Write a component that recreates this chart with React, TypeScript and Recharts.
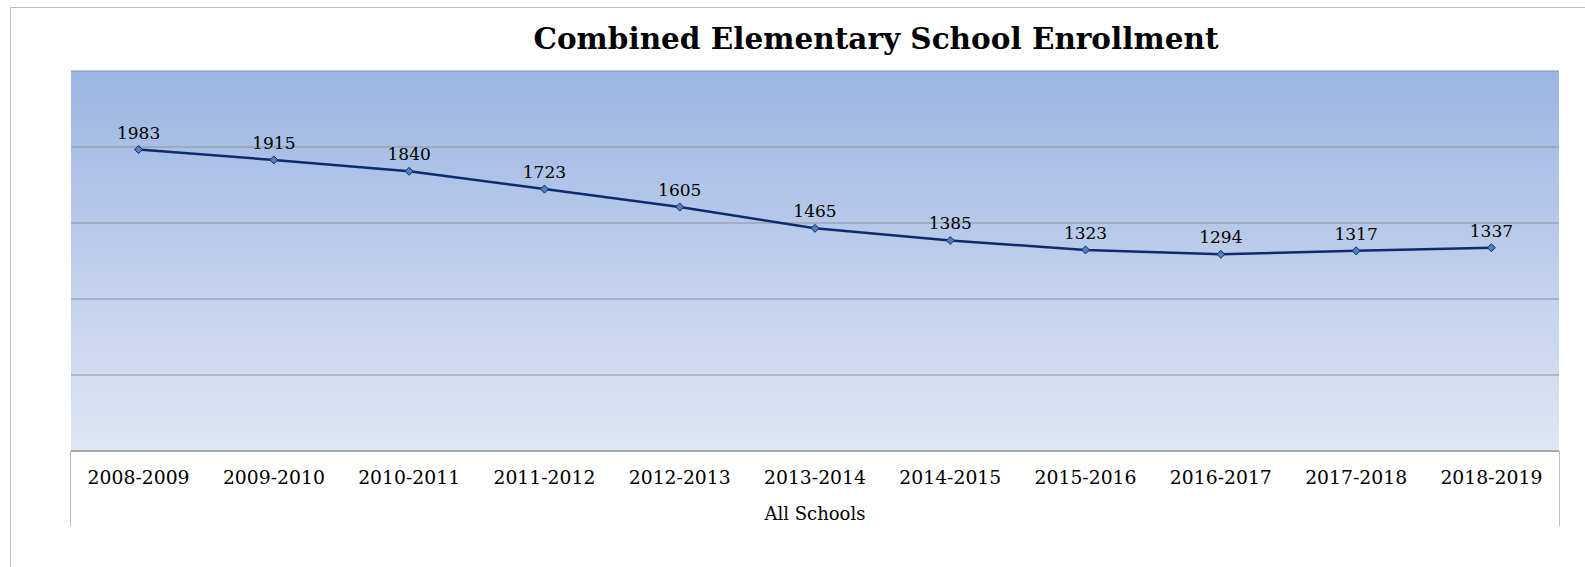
import React from 'react';
import { LineChart, Line, XAxis, YAxis, CartesianGrid, LabelList } from 'recharts';

const categories = ['2008-2009', '2009-2010', '2010-2011', '2011-2012', '2012-2013', '2013-2014', '2014-2015', '2015-2016', '2016-2017', '2017-2018', '2018-2019'];
const enrollment = [1983, 1915, 1840, 1723, 1605, 1465, 1385, 1323, 1294, 1317, 1337];
const yTicks = [0, 500, 1000, 1500, 2000, 2500];

const data = categories.map((c, i) => ({ year: c, value: enrollment[i] }));

const FONT = "'DejaVu Serif', Georgia, serif";

const Diamond = (props: any) => {
  const { cx, cy, index } = props;
  if (cx == null || cy == null) return null;
  const r = 4;
  return (
    <path
      key={`d-${index}`}
      d={`M${cx},${cy - r} L${cx + r},${cy} L${cx},${cy + r} L${cx - r},${cy} Z`}
      fill="#4F81BD"
      stroke="#0E2B6E"
      strokeWidth={1}
    />
  );
};

const Tick = (props: any) => {
  const { x, y, payload } = props;
  return (
    <text x={x} y={y + 33} textAnchor="middle" fontFamily={FONT} fontSize={18.8} fill="#000">
      {payload.value}
    </text>
  );
};

export default function App() {
  return (
    <div style={{ position: 'absolute', left: 0, top: 0, width: 1585, height: 567, background: '#fff', overflow: 'hidden' }}>
      <div style={{ position: 'absolute', left: 10, top: 7, width: 1575, height: 560, borderLeft: '1px solid #BFBFBF', borderTop: '1px solid #BFBFBF', boxSizing: 'border-box' }} />
      <div style={{ position: 'absolute', left: 376, top: 21, width: 1000, textAlign: 'center', fontFamily: FONT, fontWeight: 'bold', fontSize: 29.5, color: '#000', whiteSpace: 'nowrap' }}>
        Combined Elementary School Enrollment
      </div>
      <div style={{ position: 'absolute', left: 70, top: 451, width: 1490, height: 75, borderLeft: '1px solid #BFBFBF', borderRight: '1px solid #BFBFBF', boxSizing: 'border-box' }} />
      <div style={{ position: 'absolute', left: 0, top: 0 }}>
        <LineChart width={1585} height={567} data={data} margin={{ top: 71, left: 71, right: 26, bottom: 42 }}>
          <defs>
            <linearGradient id="plotBg" x1="0" y1="0" x2="0" y2="1">
              <stop offset="0%" stopColor="#9BB5E2" />
              <stop offset="100%" stopColor="#DFE6F4" />
            </linearGradient>
          </defs>
          <CartesianGrid vertical={false} fill="url(#plotBg)" stroke="#8E9299" strokeWidth={1} />
          <XAxis
            dataKey="year"
            height={74}
            tickLine={false}
            tickSize={0}
            tickMargin={0}
            axisLine={{ stroke: '#A6A6A6', strokeWidth: 2 }}
            tick={<Tick />}
            interval={0}
            padding={{ left: 67.6, right: 67.6 }}
            label={{ value: 'All Schools', position: 'insideBottom', offset: 5, fontFamily: FONT, fontSize: 18, fill: '#000' }}
          />
          <YAxis hide domain={[0, 2500]} ticks={yTicks} />
          <Line
            type="linear"
            dataKey="value"
            stroke="#0E2B6E"
            strokeWidth={2.5}
            dot={<Diamond />}
            activeDot={false}
            isAnimationActive={false}
          >
            <LabelList dataKey="value" position="top" offset={11} fontFamily={FONT} fontSize={17} fill="#000" />
          </Line>
        </LineChart>
      </div>
    </div>
  );
}
